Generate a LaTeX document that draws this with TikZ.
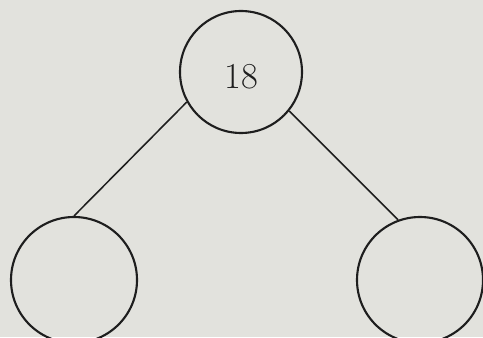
\documentclass[tikz,border=0pt]{standalone}
\usepackage{tikz}
\usetikzlibrary{positioning}
\definecolor{paper}{RGB}{226,226,221}
\definecolor{ink}{RGB}{30,30,30}

\begin{document}
\begin{tikzpicture}[scale=1.0,
    numcircle/.style={circle, draw=ink, line width=1.5pt, inner sep=0pt},
    branch/.style={draw=ink, line width=1.1pt}]
    % paper background, fixes the frame
    \fill[paper] (0,0) rectangle (12.075,8.425);
    \useasboundingbox (0,0) rectangle (12.075,8.425);

    % the three circles
    \node[numcircle, minimum size=3.05cm] (top) at (6.025,6.625) {};
    \node[numcircle, minimum size=3.15cm] (left) at (1.85,1.425) {};
    \node[numcircle, minimum size=3.15cm] (right) at (10.5,1.425) {};
    \node[text=ink] (num) at ([yshift=-0.12cm]top.center)
        {\fontsize{26}{30}\selectfont 18};

    % branches
    \draw[branch] (top.209) -- (left.90);
    \draw[branch] (top.321) -- (right.110);
\end{tikzpicture}
\end{document}
